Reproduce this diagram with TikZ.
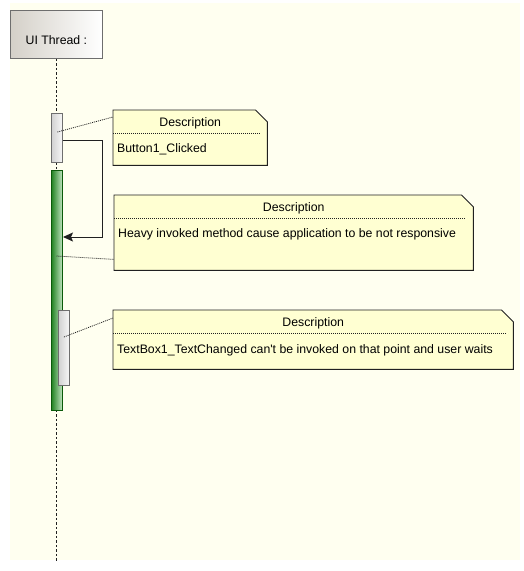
\documentclass[tikz,border=0pt]{standalone}
\usepackage{fontspec}
\setmainfont{Liberation Sans}[Ligatures=TeXOff]
\usetikzlibrary{arrows.meta,calc}
\definecolor{bgc}{HTML}{FFFFF0}
\definecolor{notefill}{HTML}{FFFFD2}
\definecolor{inkc}{HTML}{202020}
\definecolor{grayline}{HTML}{6E6E6E}
\definecolor{greenline}{HTML}{0A5A0A}
\begin{document}
\begin{tikzpicture}[x=1pt,y=-1pt,
  font=\fontsize{12.3}{14}\selectfont,
  headbox/.style={draw=grayline, line width=0.8pt, left color={rgb,255:red,212;green,208;blue,200}, right color=white, inner sep=0pt, anchor=north west},
  actgray/.style={draw=grayline, line width=0.8pt, left color=black!18, right color=black!3, inner sep=0pt, anchor=north west, minimum width=11pt},
  actgreen/.style={draw=greenline, line width=1pt, left color={rgb,255:red,35;green,130;blue,35}, right color={rgb,255:red,195;green,230;blue,195}, inner sep=0pt, anchor=north west, minimum width=11pt},
  notebox/.style={inner sep=0pt, anchor=north west},
  noteline/.style={draw=inkc, line width=0.9pt, fill=notefill},
  sepline/.style={draw=inkc, line width=0.8pt, dash pattern=on 1pt off 1pt},
  conn/.style={draw=inkc, line width=0.8pt, dash pattern=on 1pt off 1pt},
  lifeline/.style={draw=inkc, line width=0.8pt, dash pattern=on 2.5pt off 2pt},
  msg/.style={draw=inkc, line width=1pt, -{Stealth[length=10pt,width=9pt,inset=2pt]}},
  txt/.style={inner sep=0pt, text=black}
]
\useasboundingbox (0,0) rectangle (524,571);
\fill[white] (0,0) rectangle (524,571);
\fill[bgc] (10,3) rectangle (520,560);

% header and lifeline
\node[headbox, minimum width=92pt, minimum height=48pt] (hd) at (10,10) {};
\node[txt] (hdt) at ($(hd.center)+(0,6)$) {UI Thread :};
\coordinate (lifeend) at ($(hd.south)+(0,502)$);
\draw[lifeline] (hd.south) -- (lifeend);

% activations
\node[actgray, minimum height=49pt] (a1) at (51,113) {};
\node[actgreen, minimum height=240pt] (a2) at (51,170) {};
\node[actgray, minimum height=75pt] (a3) at (58,310) {};

% message
\coordinate (ms) at ($(a1.north east)+(0,27)$);
\coordinate (mt) at ($(a2.north east)+(0,67)$);
\draw[msg] (ms) -- ++(40,0) |- (mt);

% notes
\node[notebox, minimum width=154pt, minimum height=55pt] (n1) at (113,110) {};
\node[notebox, minimum width=359pt, minimum height=75pt] (n2) at (114,195) {};
\node[notebox, minimum width=400pt, minimum height=59pt] (n3) at (113,310) {};
\foreach \n in {n1,n2,n3}{
  \draw[noteline] (\n.north west) -- ($(\n.north east)+(-12,0)$) -- ($(\n.north east)+(0,12)$) -- (\n.south east) -- (\n.south west) -- cycle;
  \draw[sepline] ($(\n.north west)+(0,23.3)$) -- ($(\n.north east)+(-8,23.3)$);
  \node[txt] (\n t) at ($(\n.north)+(0,13)$) {Description};
}
\node[txt, anchor=west] (n1b) at ($(n1.north west)+(4,39.5)$) {Button1\_Clicked};
\node[txt, anchor=west] (n2b) at ($(n2.north west)+(4,39.5)$) {Heavy invoked method cause application to be not responsive};
\node[txt, anchor=west] (n3b) at ($(n3.north west)+(4,40.2)$) {TextBox1\_TextChanged can't be invoked on that point and user waits};

% note connectors
\coordinate (c1) at ($(a1.north)+(0.5,19)$);
\coordinate (c2) at ($(a2.north)+(-0.5,86)$);
\coordinate (c3) at ($(a3.north)+(0,27)$);
\draw[conn] (c1) -- ($(n1.north west)+(0,7)$);
\draw[conn] (c2) -- ($(n2.south west)+(0,-11)$);
\draw[conn] (c3) -- ($(n3.north west)+(0,8)$);
\end{tikzpicture}
\end{document}
